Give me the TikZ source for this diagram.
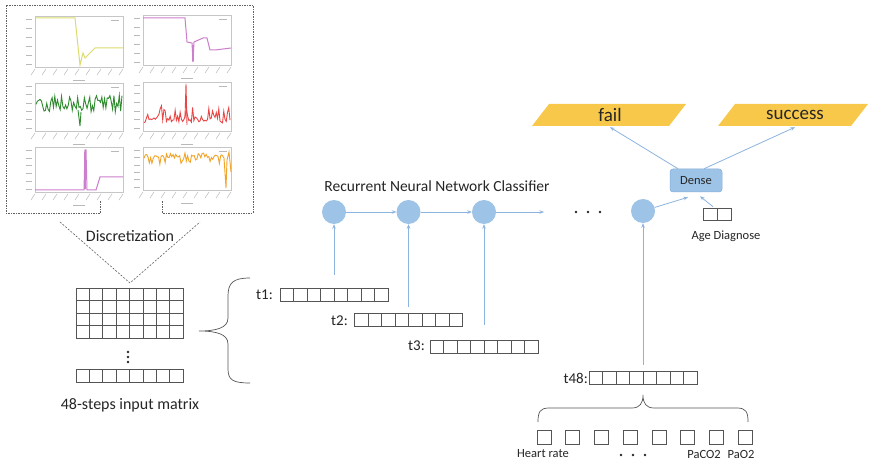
\documentclass[tikz,border=0pt]{standalone}
\usepackage{fontspec}
\setmainfont{Carlito}
\usetikzlibrary{arrows.meta,calc}

\definecolor{arrblue}{HTML}{8CB4DF}
\definecolor{nodeblue}{HTML}{9DC3E6}
\definecolor{denseedge}{HTML}{86AED8}
\definecolor{gold}{HTML}{F7C84A}
\definecolor{inkgray}{HTML}{262626}
\definecolor{cellgray}{HTML}{555555}
\definecolor{cyellow}{HTML}{DCDC6E}
\definecolor{cviolet}{HTML}{CC7FCC}
\definecolor{cgreen}{HTML}{2E8B2E}
\definecolor{cred}{HTML}{E84545}
\definecolor{corange}{HTML}{F0A428}

% frame of a small time-series chart with tick-label strokes
\newcommand\chartbox[4]{%
  \draw[gray!45, line width=0.6pt] (#1,#2) rectangle (#3,#4);
  \foreach \k in {0,...,8}
    \draw[gray!55, line width=0.5pt] ({#1+\k*(#3-#1)/8},{#4+2}) -- ++(-4,6);
  \foreach \k in {0,...,5}
    \draw[gray!55, line width=0.5pt] ({#1-9},{#2+3+\k*(#4-#2-6)/5}) -- ++(6,0);
  \draw[gray!55, line width=0.5pt] ({(#1+#3)/2-6},{#4+13}) -- ++(12,0);
  \draw[gray!55, line width=0.5pt] ({#3-12},{#2+4}) -- ++(8,0);
}

\begin{document}
\begin{tikzpicture}[x=1pt,y=-1pt,
  arr/.style={draw=arrblue, line width=0.8pt, -{Stealth[length=4.5pt,width=3.5pt]}},
  rnn/.style={circle, fill=nodeblue, minimum size=24pt, inner sep=0pt},
  rowbox/.style={draw=cellgray, line width=0.6pt, inner sep=0pt,
    minimum height=13pt, minimum width=#1*13.5pt,
    path picture={\foreach \i in {2,...,#1}{
      \draw[cellgray, line width=0.6pt]
        ($(path picture bounding box.south west)!{(\i-1)/#1}!(path picture bounding box.south east)$) --
        ($(path picture bounding box.north west)!{(\i-1)/#1}!(path picture bounding box.north east)$);}}},
  sqbox/.style={draw=cellgray, line width=0.6pt, minimum size=14pt, inner sep=0pt},
  lbl/.style={text=inkgray, inner sep=0pt},
  dotbox/.style={draw=gray!75!black, line width=0.6pt,
    dash pattern=on 2pt off 1.2pt on 0.6pt off 1.2pt},
  bracestyle/.style={draw=cellgray, line width=0.7pt},
  bigdot/.style={circle, fill=inkgray, minimum size=2.8pt, inner sep=0pt}
]
\useasboundingbox (0,0) rectangle (870,462);
\fill[white] (0,0) rectangle (870,462);

% ---------- raw time series ----------
\draw[dotbox] (100,213) -- (6,213) -- (6,5) -- (253,5) -- (253,213) -- (162,213);
\draw[dotbox] (100,213) -- (100,201);
\draw[dotbox] (162,213) -- (162,201);

\chartbox{35}{16}{123}{67}
\draw[cyellow, line width=1pt] (35,18) -- (75,18) -- (80,65) -- (83,53) -- (85,58) -- (95,48) -- (123,48);
\chartbox{143}{15}{231}{65}
\draw[cviolet, line width=1pt] (143,18) -- (185,18) -- (187,42) -- (192,43) -- (193,62) -- (194,42) -- (203,38) -- (207,38) -- (210,50) -- (215,50) -- (231,48);
\draw[cviolet, line width=2pt] (193,45) -- (193,61);

\chartbox{35}{83}{123}{131}
\pgfmathsetseed{11}
\draw[cgreen, line width=0.9pt] plot[domain=36:122, samples=65] (\x,{104+9*rand});
\draw[cgreen, line width=0.9pt] (78,110) -- (80,126) -- (81,112);

\chartbox{143}{82}{231}{131}
\pgfmathsetseed{5}
\draw[cred, line width=0.9pt] plot[domain=144:230, samples=70] (\x,{123-5*rnd-14*rnd^4});
\draw[cred, line width=0.9pt] (185,118) -- (186,84) -- (187,125);

\chartbox{35}{147}{123}{192}
\draw[cviolet, line width=1pt] (35,190) -- (84,190) -- (85,150) -- (86,150) -- (87,190) -- (96,190) -- (100,177) -- (123,177);
\draw[cviolet, line width=2pt] (85,152) -- (85,189);

\chartbox{143}{147}{231}{190}
\pgfmathsetseed{3}
\draw[corange, line width=0.9pt] plot[domain=144:222, samples=60] (\x,{153+4*rnd+9*rnd^4});
\draw[corange, line width=0.9pt] (222,155) -- (224,158) -- (226,188) -- (227,160) -- (229,152) -- (231,172);

% ---------- discretization ----------
\draw[gray!75!black, line width=0.6pt, dash pattern=on 2pt off 1.5pt] (60,222) -- (130,283) -- (200,222);
\node[lbl, font=\fontsize{16}{18}\selectfont] (disc) at (130,236) {Discretization};

% input matrix
\node[draw=cellgray, line width=0.6pt, minimum width=107pt, minimum height=50pt, inner sep=0pt] (inmat) at (129.5,313) {};
\foreach \c in {1,...,7}
  \draw[cellgray, line width=0.6pt] ({76+\c*107/8},288) -- ({76+\c*107/8},338);
\foreach \r in {1,...,3}
  \draw[cellgray, line width=0.6pt] (76,{288+\r*12.5}) -- (183,{288+\r*12.5});
\draw[cellgray, line width=1pt] ({76+4*107/8},288) -- ({76+4*107/8},338);
\node[bigdot] (vd1) at (128,352) {};
\node[bigdot] (vd2) at (128,357) {};
\node[bigdot] (vd3) at (128,362) {};
\node[rowbox=8, minimum width=107pt] (lastrow) at (129.5,376) {};
\node[lbl, font=\fontsize{16}{18}\selectfont] (matlbl) at (130,405) {48-steps input matrix};

% left brace
\draw[bracestyle] (250,278) .. controls (233,278) and (228,283) .. (228,296) -- (228,318)
  .. controls (228,328) and (216,331) .. (199,331)
  .. controls (216,331) and (228,334) .. (228,344) -- (228,369)
  .. controls (228,380) and (233,383) .. (250,383);

% ---------- time-step rows ----------
\node[rowbox=8] (t1row) at (334,295) {};
\node[rowbox=8] (t2row) at (408.5,320) {};
\node[rowbox=8] (t3row) at (484,346.5) {};
\node[rowbox=8] (t48row) at (643,377.5) {};
\node[lbl, font=\fontsize{15}{17}\selectfont, anchor=east] (t1) at (273,295) {t1:};
\node[lbl, font=\fontsize{15}{17}\selectfont, anchor=east] (t2) at (348,321) {t2:};
\node[lbl, font=\fontsize{15}{17}\selectfont, anchor=east] (t3) at (425,346) {t3:};
\node[lbl, font=\fontsize{15}{17}\selectfont, anchor=east] (t48) at (588,378) {t48:};

% ---------- recurrent layer ----------
\node[lbl, font=\fontsize{15.5}{18}\selectfont] (rnntitle) at (437,186) {Recurrent Neural Network Classifier};
\node[rnn] (r1) at (334,212) {};
\node[rnn] (r2) at (408.5,212) {};
\node[rnn] (r3) at (484,212) {};
\node[rnn] (r4) at (643,211) {};
\coordinate (rend) at (544,212);
\node[bigdot] (hd1) at (576,212) {};
\node[bigdot] (hd2) at (588,212) {};
\node[bigdot] (hd3) at (600,212) {};

\draw[arr] (r1) -- (r2);
\draw[arr] (r2) -- (r3);
\draw[arr] (r3) -- (rend);
\draw[arr] ([yshift=13pt]t1row.north) -- (t1row.north |- r1.south);
\draw[arr] ([yshift=6pt]t2row.north) -- (t2row.north |- r2.south);
\draw[arr] ([yshift=15pt]t3row.north) -- (t3row.north |- r3.south);
\draw[arr] ([yshift=6pt]t48row.north) -- (t48row.north |- r4.south);

% ---------- dense head ----------
\node[rounded corners=3pt, fill=nodeblue, draw=denseedge, line width=0.5pt,
      minimum width=52pt, minimum height=23pt, inner sep=0pt, text=inkgray,
      font=\fontsize{12.5}{14}\selectfont] (dense) at (696,180.5) {Dense};
\node[rowbox=2, minimum width=28pt, minimum height=12pt] (age) at (717,214) {};
\node[lbl, font=\fontsize{12.5}{14}\selectfont] (agelbl) at (726,236) {Age Diagnose};
\draw[arr] (r4) -- ([xshift=-8pt,yshift=-5pt]dense.south);
\draw[arr] ([xshift=-4pt,yshift=1pt]age.north) -- ([xshift=4pt,yshift=-4pt]dense.south);

% outputs
\fill[gold] (532,126) -- (549,104) -- (686,104) -- (669,126) -- cycle;
\fill[gold] (718,126) -- (735,104) -- (868,104) -- (851,126) -- cycle;
\node[lbl, font=\fontsize{19}{21}\selectfont, minimum height=22pt] (fail) at (610,115) {fail};
\node[lbl, font=\fontsize{19}{21}\selectfont, minimum height=22pt] (success) at (795,115) {success};
\draw[arr] ([xshift=-18pt]dense.north) -- ([yshift=-1pt]fail.south);
\draw[arr] ([xshift=8pt]dense.north) -- ([yshift=-1pt]success.south);

% ---------- features of one step ----------
\draw[bracestyle] (538,422) .. controls (538,412) and (540,408) .. (549,408) -- (632,408)
  .. controls (640,408) and (643,403) .. (643,395)
  .. controls (643,403) and (646,408) .. (654,408) -- (737,408)
  .. controls (746,408) and (748,412) .. (748,422);
\foreach \n/\x in {1/544, 2/572, 3/601, 4/630, 5/659, 6/687, 7/716, 8/745}
  \node[sqbox] (sq\n) at (\x,437) {};
\node[lbl, font=\fontsize{12.5}{14}\selectfont] (hr) at (543,454) {Heart rate};
\node[bigdot] (fd1) at (621,455) {};
\node[bigdot] (fd2) at (633,455) {};
\node[bigdot] (fd3) at (645,455) {};
\node[lbl, font=\fontsize{12.5}{14}\selectfont] (paco2) at (704,454) {PaCO2};
\node[lbl, font=\fontsize{12.5}{14}\selectfont] (pao2) at (741,454) {PaO2};
\end{tikzpicture}
\end{document}
